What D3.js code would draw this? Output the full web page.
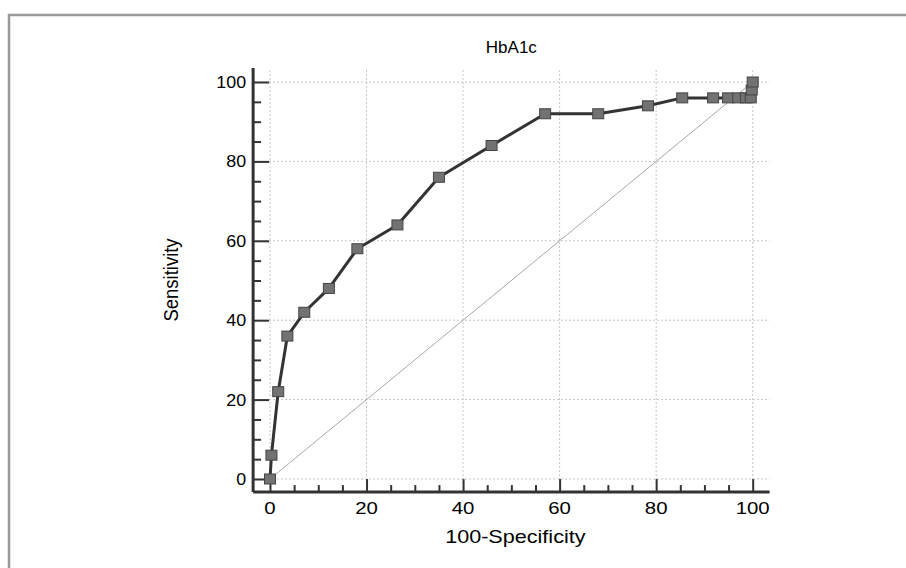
<!DOCTYPE html>
<html>
<head>
<meta charset="utf-8">
<script src="https://cdn.jsdelivr.net/npm/d3@7"></script>
<style>
  html, body { margin: 0; padding: 0; background: #fff; }
  svg { display: block; }
  text { font-family: "Liberation Sans", Arial, sans-serif; fill: #000; }
</style>
</head>
<body>
<svg id="chart" width="906" height="568"></svg>
<script>
// ROC curve points for HbA1c
const specComplement = [0, 0.3, 1.7, 3.6, 7.1, 12.2, 18.1, 26.4, 35, 45.9, 57, 68, 78.3, 85.4, 91.8, 94.9, 97, 98.6, 99.6, 99.8, 100];
const sensitivity    = [0, 6, 22, 36, 42, 48, 58, 64, 76, 84, 92, 92, 94, 96, 96, 96, 96, 96, 96, 98, 100];
const tickValues = [0, 20, 40, 60, 80, 100];
const minorTicks = d3.range(0, 101, 5).filter(v => v % 20 !== 0);
const chartTitle = "HbA1c";
const xTitle = "100-Specificity";
const yTitle = "Sensitivity";

const points = specComplement.map((x, i) => ({ x, y: sensitivity[i] }));

const svg = d3.select("#chart");
const stretch = 1.2;

// outer frame
svg.append("rect")
  .attr("x", 9).attr("y", 15)
  .attr("width", 920).attr("height", 580)
  .attr("fill", "none").attr("stroke", "#999").attr("stroke-width", 2.5);

const x = d3.scaleLinear().domain([0, 100]).range([270, 752.7]);
const y = d3.scaleLinear().domain([0, 100]).range([479, 82]);

const xLo = -3.5, xHi = 103.5, yLo = -3.3, yHi = 103.5;

// dotted grid
const grid = svg.append("g").attr("stroke", "#c4c4c4").attr("stroke-width", 1).attr("stroke-dasharray", "2,2");
grid.selectAll("line.v").data(tickValues).join("line")
  .attr("x1", d => x(d)).attr("x2", d => x(d))
  .attr("y1", y(yLo)).attr("y2", y(yHi));
grid.selectAll("line.h").data(tickValues).join("line")
  .attr("y1", d => y(d)).attr("y2", d => y(d))
  .attr("x1", x(xLo)).attr("x2", x(xHi));

// reference diagonal
svg.append("line")
  .attr("x1", x(0)).attr("y1", y(0)).attr("x2", x(100)).attr("y2", y(100))
  .attr("stroke", "#a8a8a8").attr("stroke-width", 1);

// axes with inward ticks
const xAxisY = y(yLo);
const yAxisX = x(xLo);

const xAxis = svg.append("g").attr("transform", `translate(0,${xAxisY})`)
  .call(d3.axisTop(x).tickValues(tickValues).tickSize(13).tickFormat(""));
xAxis.append("g").call(d3.axisTop(x).tickValues(minorTicks).tickSize(7).tickFormat(""));
xAxis.selectAll(".domain").remove();
xAxis.selectAll("line").attr("stroke", "#333").attr("stroke-width", 2);

const yAxis = svg.append("g").attr("transform", `translate(${yAxisX},0)`)
  .call(d3.axisRight(y).tickValues(tickValues).tickSize(16).tickFormat(""));
yAxis.append("g").call(d3.axisRight(y).tickValues(minorTicks).tickSize(8).tickFormat(""));
yAxis.selectAll(".domain").remove();
yAxis.selectAll("line").attr("stroke", "#333").attr("stroke-width", 2);

// axis lines
svg.append("line").attr("x1", yAxisX).attr("x2", x(xHi)).attr("y1", xAxisY).attr("y2", xAxisY)
  .attr("stroke", "#333").attr("stroke-width", 3);
svg.append("line").attr("x1", yAxisX).attr("x2", yAxisX).attr("y1", xAxisY).attr("y2", y(yHi))
  .attr("stroke", "#333").attr("stroke-width", 3);

// tick labels
svg.append("g").selectAll("text").data(tickValues).join("text")
  .attr("transform", d => `translate(${x(d)},${xAxisY + 22}) scale(${stretch},1)`)
  .attr("text-anchor", "middle").attr("font-size", 17)
  .text(d => d);
svg.append("g").selectAll("text").data(tickValues).join("text")
  .attr("transform", d => `translate(${yAxisX - 7},${y(d) + 6}) scale(1.05,1)`)
  .attr("text-anchor", "end").attr("font-size", 17)
  .text(d => d);

// titles
svg.append("text")
  .attr("transform", `translate(${(x(0) + x(100)) / 2},${53})`)
  .attr("text-anchor", "middle").attr("font-size", 17)
  .text(chartTitle);
svg.append("text")
  .attr("transform", `translate(${(x(0) + x(100)) / 2 + 4},${543}) scale(${stretch},1)`)
  .attr("text-anchor", "middle").attr("font-size", 18)
  .text(xTitle);
svg.append("text")
  .attr("transform", `translate(${178},${280}) scale(1.1,1) rotate(-90)`)
  .attr("text-anchor", "middle").attr("font-size", 18.5)
  .text(yTitle);

// ROC curve
svg.append("path").datum(points)
  .attr("d", d3.line().x(d => x(d.x)).y(d => y(d.y)))
  .attr("fill", "none").attr("stroke", "#333").attr("stroke-width", 3)
  .attr("stroke-linejoin", "round");

// square markers
svg.append("g").selectAll("rect").data(points).join("rect")
  .attr("x", d => x(d.x) - 5.5).attr("y", d => y(d.y) - 5)
  .attr("width", 11).attr("height", 10)
  .attr("fill", "#727272").attr("stroke", "#444").attr("stroke-width", 1);
</script>
</body>
</html>
